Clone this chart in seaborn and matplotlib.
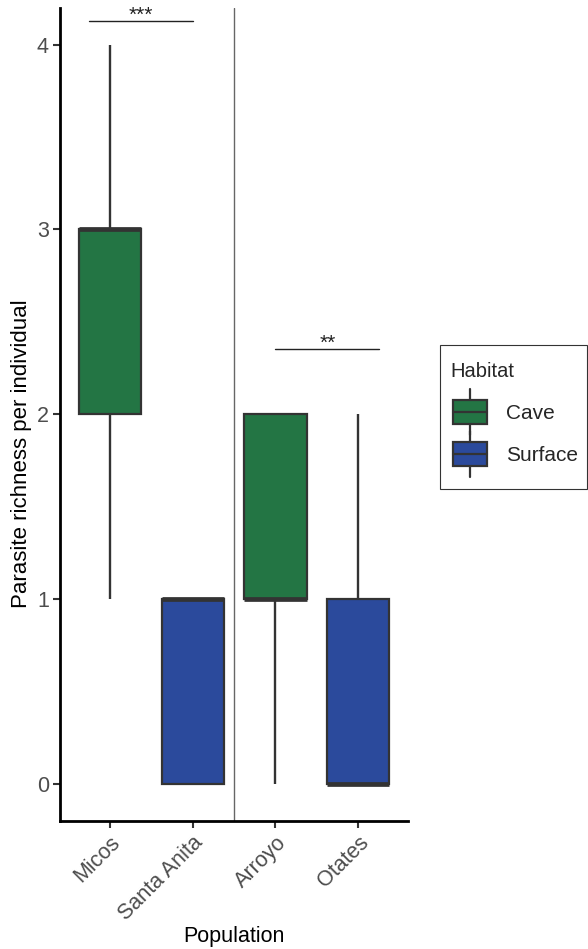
import matplotlib
matplotlib.use("Agg")
import matplotlib.pyplot as plt
import seaborn as sns
import pandas as pd
from matplotlib.legend_handler import HandlerBase
from matplotlib.patches import Rectangle
from matplotlib.lines import Line2D

populations = ["Micos", "Santa Anita", "Arroyo", "Otates"]
habitats = ["Cave", "Surface", "Cave", "Surface"]
micos = [1, 2, 2, 3, 3, 3, 3, 4]
santa_anita = [0, 0, 0, 1, 1, 1, 1, 1]
arroyo = [0, 1, 1, 1, 1, 2, 2, 2]
otates = [0, 0, 0, 0, 0, 1, 1, 2]
sig_pairs = [("Micos", "Santa Anita"), ("Arroyo", "Otates")]
sig_labels = ["***", "**"]
sig_heights = [4.13, 2.355]

colors = {"Cave": "#237544", "Surface": "#2b4a9c"}

rows = []
for pop, hab, vals in zip(populations, habitats, [micos, santa_anita, arroyo, otates]):
    for v in vals:
        rows.append({"Population": pop, "Habitat": hab, "richness": v})
df = pd.DataFrame(rows)

sns.set_style("white")
plt.rcParams['font.family'] = ['Liberation Sans', 'DejaVu Sans']

W, H = 588, 949
fig = plt.figure(figsize=(W / 100, H / 100), dpi=100)
ax = fig.add_axes([0.102, 0.135, 0.592, 0.857])

edge = "#333333"
sns.boxplot(data=df, x="Population", y="richness", hue="Habitat", order=populations,
            palette=colors, saturation=1, dodge=False, width=0.75, linecolor=edge, linewidth=1.5,
            showcaps=False, whis=1.5, legend=False, ax=ax,
            medianprops={"linewidth": 3.4, "color": edge, "solid_capstyle": "butt"},
            whiskerprops={"linewidth": 1.7, "color": edge},
            boxprops={"edgecolor": edge, "linewidth": 1.6})

ax.axvline(1.5, color="#666666", linewidth=1.0, zorder=0)

for (a, b), lab, h in zip(sig_pairs, sig_labels, sig_heights):
    if a == "Arroyo":
        xa = populations.index(a)
        xb = populations.index(b) + 0.25
    else:
        xa = populations.index(a) - 0.25
        xb = populations.index(b)
    ax.plot([xa, xb], [h, h], color="#222222", linewidth=1.0, clip_on=False)
    ax.text((xa + xb) / 2, h - 0.025, lab, ha="center", va="bottom", fontsize=15, color="#222222")

ax.set_xlim(-0.6, 3.6)
ax.set_ylim(-0.2, 4.2)
ax.set_yticks([0, 1, 2, 3, 4])
ax.set_yticklabels(["0", "1", "2", "3", "4"])
sns.despine(ax=ax)
for s in ["left", "bottom"]:
    ax.spines[s].set_linewidth(2.0)
    ax.spines[s].set_color("black")
ax.tick_params(axis="both", direction="out", length=5, width=1.5, color="#333333",
               labelsize=15.5, labelcolor="#4d4d4d", left=True, bottom=True, pad=3)
plt.setp(ax.get_xticklabels(), rotation=45, ha="right", rotation_mode="anchor")
ax.set_xlabel("Population", fontsize=15.5, color="black")
ax.xaxis.set_label_coords(0.5, -0.129)
ax.set_ylabel("Parasite richness per individual", fontsize=16, color="black")
ax.yaxis.set_label_coords(-0.08, 0.451)


class HandlerBox(HandlerBase):
    def create_artists(self, legend, orig_handle, xdescent, ydescent, width, height, fontsize, trans):
        c = orig_handle.get_facecolor()
        px = 72 / 100
        x0 = xdescent + 3 * px
        bw = width - 3 * px
        bh = 24.0 * px
        y0 = -ydescent + height / 2 - bh / 2
        wl = 11.0 * px
        rect = Rectangle((x0, y0), bw, bh, facecolor=c, edgecolor=edge, linewidth=1.6, transform=trans)
        xm = x0 + bw / 2
        med = Line2D([x0, x0 + bw], [y0 + bh / 2] * 2, color=edge, linewidth=1.6, transform=trans)
        w1 = Line2D([xm, xm], [y0 + bh, y0 + bh + wl], color=edge, linewidth=1.6, transform=trans)
        w2 = Line2D([xm, xm], [y0, y0 - wl], color=edge, linewidth=1.6, transform=trans)
        return [w1, w2, rect, med]


# legend frame
fig.patches.append(Rectangle((440 / W, 1 - 489 / H), 147 / W, 144 / H, transform=fig.transFigure,
                             facecolor="white", edgecolor="#333333", linewidth=0.8, zorder=0))

handles = [Rectangle((0, 0), 1, 1, facecolor=colors[h]) for h in ["Cave", "Surface"]]
leg = fig.legend(handles, ["Cave", "Surface"], title="Habitat", loc="upper left",
                 bbox_to_anchor=(450 / W, 1 - 362 / H), frameon=False,
                 handler_map={Rectangle: HandlerBox()}, fontsize=15, title_fontsize=14.5,
                 handlelength=1.78, handleheight=0.7, handletextpad=0.91, labelspacing=1.11,
                 borderpad=0, borderaxespad=0)
leg._legend_box.align = "left"

fig.savefig("out.png", dpi=100)
